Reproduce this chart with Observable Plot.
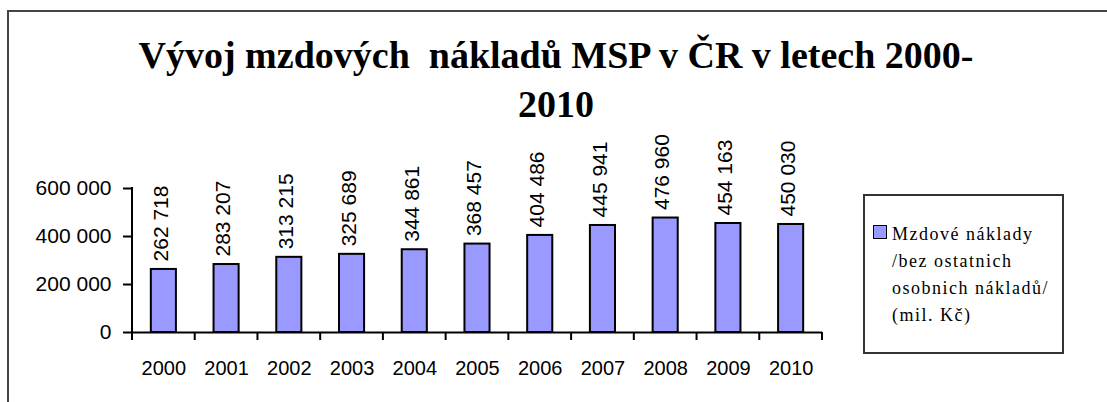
<!DOCTYPE html>
<html>
<head>
<meta charset="utf-8">
<script src="https://cdn.jsdelivr.net/npm/d3@7"></script>
<script src="https://cdn.jsdelivr.net/npm/@observablehq/plot@0.6"></script>
<style>
  html, body { margin: 0; padding: 0; background: #fff; }
  #wrap { position: relative; width: 1107px; height: 402px; overflow: hidden; background: #fff; }
  #frame { position: absolute; left: 7px; top: 10px; width: 1200px; height: 500px; border-left: 2px solid #444; border-top: 2px solid #444; box-sizing: border-box; }
  .title { position: absolute; left: 0; width: 1112px; text-align: center; font-family: "Liberation Serif", "Times New Roman", serif; font-weight: bold; font-size: 38px; color: #000; white-space: pre; }
  #legend { position: absolute; left: 863px; top: 194px; width: 201px; height: 160px; border: 2px solid #333; box-sizing: border-box; background: #fff; }
  #swatch { position: absolute; left: 8px; top: 29px; width: 14px; height: 14px; box-sizing: border-box; border: 1.5px solid #000; background: #9999FF; }
  #ltext { position: absolute; left: 27px; top: 25px; font-family: "Liberation Serif", "Times New Roman", serif; font-size: 18px; line-height: 27px; letter-spacing: 1.5px; color: #000; white-space: pre; }
  #chart { position: absolute; left: 0; top: 0; }
</style>
</head>
<body>
<div id="wrap">
  <div id="frame"></div>
  <div id="chart"></div>
  <div class="title" id="t1" style="top:33px"></div>
  <div class="title" id="t2" style="top:82px"></div>
  <div id="legend"><div id="swatch"></div><div id="ltext"></div></div>
</div>
<script>
const titleLines = ["Vývoj mzdových  nákladů MSP v ČR v letech 2000-", "2010"];
const years = ["2000","2001","2002","2003","2004","2005","2006","2007","2008","2009","2010"];
const values = [262718, 283207, 313215, 325689, 344861, 368457, 404486, 445941, 476960, 454163, 450030];
const yTicks = [0, 200000, 400000, 600000];
const legendLines = ["Mzdové náklady", "/bez ostatnich", "osobnich nákladů/", "(mil. Kč)"];

document.getElementById("t1").textContent = titleLines[0];
document.getElementById("t2").textContent = titleLines[1];
document.getElementById("ltext").textContent = legendLines.join("\n");

const loc = d3.formatLocale({decimal: ",", thousands: " ", grouping: [3], currency: ["", ""]});
const fmt = loc.format(",d");
const data = years.map((y, i) => ({year: y, value: values[i]}));

const sans = "'Liberation Sans', Arial, sans-serif";
const plot = Plot.plot({
  width: 1107,
  height: 402,
  marginLeft: 132,
  marginRight: 285,
  marginTop: 188,
  marginBottom: 70,
  style: {background: "transparent", fontFamily: sans, fontSize: "20px", color: "#000", overflow: "visible"},
  x: {domain: years, paddingInner: 0.6, paddingOuter: 0.3, round: false},
  y: {domain: [0, 600000]},
  marks: [
    Plot.barY(data, {x: "year", y: "value", fill: "#9999FF", stroke: "#000", strokeWidth: 2}),
    Plot.axisY({ticks: yTicks, tickSize: 9, tickPadding: 12, tickFormat: fmt, label: null, stroke: "#000", strokeWidth: 2, fontSize: 21}),
    Plot.axisX({tickSize: 0, tickPadding: 28, label: null, fontSize: 20}),
    Plot.ruleY([0], {stroke: "#000", strokeWidth: 2}),
    Plot.text(data, {x: "year", y: "value", text: d => fmt(d.value), rotate: -90, textAnchor: "start", dy: -8, dx: -3, fontSize: 21, fill: "#000"})
  ]
});
document.getElementById("chart").appendChild(plot);

// y-axis line and boundary ticks under the category axis, placed from the plot's own scales
const xs = plot.scale("x");
const ys = plot.scale("y");
const gap = (xs.step - xs.bandwidth) / 2;
const bounds = years.map(y => xs.apply(y) - gap);
bounds.push(xs.apply(years[years.length - 1]) + xs.bandwidth + gap);
const y0 = ys.apply(0);
const yTop = ys.apply(yTicks[yTicks.length - 1]);
const svg = d3.select(plot);
bounds.forEach(b => {
  svg.append("line").attr("x1", b).attr("x2", b).attr("y1", y0).attr("y2", y0 + 8)
    .attr("stroke", "#000").attr("stroke-width", 2);
});
svg.append("rect").attr("x", bounds[0] - 1).attr("width", 2).attr("y", yTop - 1).attr("height", y0 - yTop + 2)
  .attr("fill", "#000");
</script>
</body>
</html>
